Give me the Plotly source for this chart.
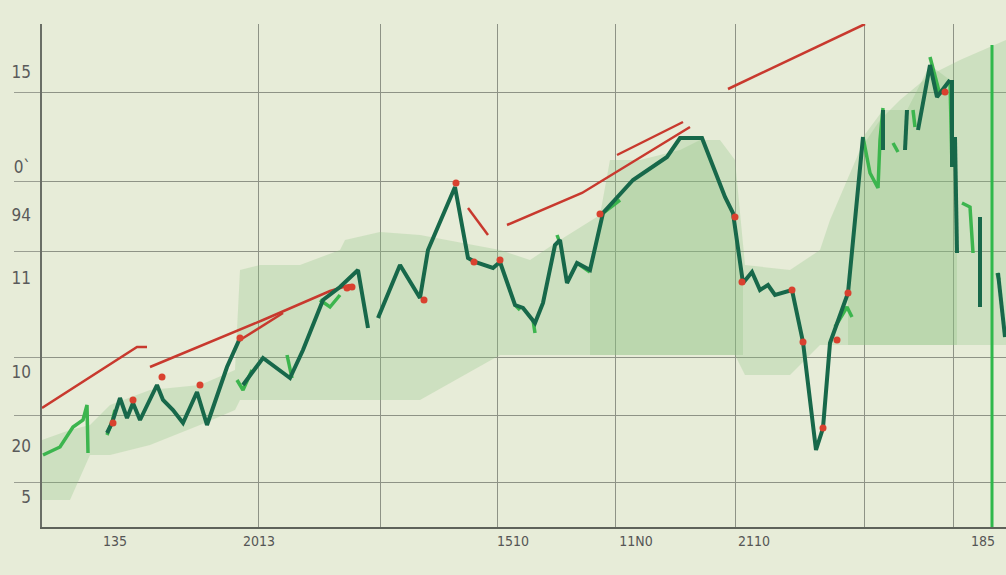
import plotly.graph_objects as go

# ---- data (arbitrary chart units) ----
main_x = [107, 112, 120, 127, 133, 140, 157, 163, 173, 183, 197, 207, 227, 240, None,
          243, 263, 290, 303, 323, 340, 358, 368, None,
          378, 400, 420, 428, 455, 468, 475, 493, 500, 515, 523, 535, 543, 555, 560, 567, 577, 590,
          603, 633, 667, 680, 702, 725, 733, 743, 752, 760, 768, 775, 792, 803, 816, 823, 830, 848, 863, None,
          883, 883, None, 907, 905, None, 918, 930, 937, 950, None, 952, 952, None, 955, 957, None,
          980, 980, None, 998, 1005]
main_y = [433, 423, 398, 418, 403, 420, 385, 400, 410, 423, 392, 425, 367, 338, None,
          385, 358, 378, 350, 300, 287, 270, 328, None,
          318, 265, 298, 250, 187, 258, 262, 268, 262, 305, 308, 323, 303, 245, 240, 283, 263, 270,
          213, 180, 157, 138, 138, 197, 213, 283, 272, 290, 285, 295, 290, 342, 450, 428, 343, 293, 137, None,
          110, 150, None, 110, 150, None, 130, 65, 97, 80, None, 80, 167, None, 137, 253, None,
          217, 307, None, 273, 337]

bright_x = [43, 60, 73, 83, 87, 88, None, 107, 112, 115, None, 237, 243, 252, None, 287, 292, None,
            320, 330, 340, None, 515, 520, None, 533, 535, None, 557, 560, None, 577, 590, None, 603, 620, None,
            835, 847, 852, None, 863, 870, 878, 880, 883, None, 893, 898, None, 913, 915, None,
            930, 940, None, 950, 952, None, 962, 970, 973, None, 980, 980, None, 997, 999]
bright_y = [455, 447, 427, 420, 405, 453, None, 435, 422, 410, None, 380, 390, 370, None, 355, 378, None,
            300, 307, 295, None, 305, 310, None, 320, 333, None, 235, 243, None, 263, 272, None, 213, 200, None,
            327, 307, 317, None, 137, 173, 188, 140, 108, None, 143, 152, None, 110, 127, None,
            57, 95, None, 80, 167, None, 203, 207, 253, None, 217, 307, None, 273, 280]

spike_x = [992, 992]
spike_y = [45, 532]

trend_x = [42, 137, 147, None, 150, 263, 330, 350, None, 240, 283, None, 468, 488, None,
           507, 582, 690, None, 617, 683, None, 728, 865]
trend_y = [408, 347, 347, None, 367, 320, 291, 285, None, 340, 313, None, 208, 235, None,
           225, 193, 127, None, 155, 122, None, 89, 24]

dot_x = [113, 133, 162, 200, 240, 347, 352, 424, 456, 474, 500, 600, 735, 742, 792, 803, 823, 837, 848, 945]
dot_y = [423, 400, 377, 385, 338, 288, 287, 300, 183, 262, 260, 214, 217, 282, 290, 342, 428, 340, 293, 92]

band_x = [42, 70, 90, 110, 150, 200, 235, 240, 260, 300, 340, 345, 380, 420, 500, 530, 560, 600, 610,
          640, 680, 700, 720, 735, 745, 790, 820, 830, 860, 880, 900, 930, 960, 1006]
band_top = [440, 430, 425, 405, 390, 385, 370, 270, 265, 265, 250, 240, 232, 235, 250, 260, 240, 215, 160,
            160, 150, 140, 140, 160, 265, 270, 250, 220, 150, 120, 100, 75, 60, 40]
band_bottom = [500, 500, 455, 455, 445, 425, 410, 400, 400, 400, 400, 400, 400, 400, 355, 355, 355, 355, 355,
               355, 355, 355, 355, 355, 375, 375, 345, 345, 345, 345, 345, 345, 345, 345]

peak1_x = [590, 603, 633, 667, 680, 702, 725, 733, 743]
peak1_top = [270, 213, 180, 157, 138, 138, 197, 213, 283]
peak1_bottom = [355, 355, 355, 355, 355, 355, 355, 355, 355]

peak2_x = [848, 863, 883, 907, 930, 950, 957]
peak2_top = [293, 137, 110, 110, 65, 80, 253]
peak2_bottom = [345, 345, 345, 345, 345, 345, 345]

grid_x = [258, 380, 497, 615, 735, 864, 953]
grid_y = [92, 181, 251, 357, 415, 482]

x_label_pos = [115, 259, 513, 636, 754, 983]
x_labels = ["135", "2013", "1510", "11N0", "2110", "185"]
y_label_pos = [72, 167, 215, 278, 372, 446, 497]
y_labels = ["15", "0ˋ", "94", "11", "10", "20", "5"]

BG = "#e7ecd8"
DARK = "#17684a"
BRIGHT = "#3cb54e"
RED = "#c8392e"
FILL = "rgba(140,195,130,0.28)"
FONT = "Liberation Sans Narrow, DejaVu Sans Condensed, Liberation Sans, sans-serif"

fig = go.Figure()

# broad shaded band
fig.add_trace(go.Scatter(x=band_x, y=band_bottom, mode="lines", line=dict(width=0),
                         hoverinfo="skip", showlegend=False))
fig.add_trace(go.Scatter(x=band_x, y=band_top, mode="lines", line=dict(width=0),
                         fill="tonexty", fillcolor=FILL, hoverinfo="skip", showlegend=False))
# darker shading under peaks
fig.add_trace(go.Scatter(x=peak1_x, y=peak1_bottom, mode="lines", line=dict(width=0),
                         hoverinfo="skip", showlegend=False))
fig.add_trace(go.Scatter(x=peak1_x, y=peak1_top, mode="lines", line=dict(width=0),
                         fill="tonexty", fillcolor=FILL, hoverinfo="skip", showlegend=False))
fig.add_trace(go.Scatter(x=peak2_x, y=peak2_bottom, mode="lines", line=dict(width=0),
                         hoverinfo="skip", showlegend=False))
fig.add_trace(go.Scatter(x=peak2_x, y=peak2_top, mode="lines", line=dict(width=0),
                         fill="tonexty", fillcolor=FILL, hoverinfo="skip", showlegend=False))

# red trend lines
fig.add_trace(go.Scatter(x=trend_x, y=trend_y, mode="lines", line=dict(color=RED, width=2.5),
                         connectgaps=False, showlegend=False))
# bright green segments
fig.add_trace(go.Scatter(x=bright_x, y=bright_y, mode="lines", line=dict(color=BRIGHT, width=3.5),
                         connectgaps=False, showlegend=False))
# main dark line
fig.add_trace(go.Scatter(x=main_x, y=main_y, mode="lines", line=dict(color=DARK, width=4),
                         connectgaps=False, showlegend=False))
# vertical spike
fig.add_trace(go.Scatter(x=spike_x, y=spike_y, mode="lines", line=dict(color="#2fb84b", width=3),
                         showlegend=False))
# red dots
fig.add_trace(go.Scatter(x=dot_x, y=dot_y, mode="markers",
                         marker=dict(color="#d9412f", size=7), showlegend=False))

fig.update_layout(
    width=1006, height=575,
    margin=dict(l=42, r=0, t=24, b=48),
    paper_bgcolor=BG, plot_bgcolor=BG,
    font=dict(family=FONT, color="#555555"),
    xaxis=dict(range=[42, 1006], tickvals=grid_x, showticklabels=False, showgrid=True,
               gridcolor="#8e9386", gridwidth=1, zeroline=False, showline=True,
               linecolor="#5e625a", linewidth=2, ticks=""),
    yaxis=dict(range=[527, 24], tickvals=grid_y, showticklabels=False, showgrid=True,
               gridcolor="#8e9386", gridwidth=1, zeroline=False, showline=True,
               linecolor="#6a6e66", linewidth=2, ticks="outside", ticklen=26,
               tickcolor="#9a9e92", tickwidth=1),
    xaxis2=dict(range=[42, 1006], overlaying="x", anchor="y", side="bottom",
                tickvals=x_label_pos, ticktext=x_labels, showgrid=False, zeroline=False,
                ticks="", ticklabelstandoff=4, tickfont=dict(size=14, color="#555555", family=FONT)),
    yaxis2=dict(range=[527, 24], overlaying="y", anchor="x", side="left",
                tickvals=y_label_pos, ticktext=y_labels, showgrid=False, zeroline=False,
                ticks="", ticklabelstandoff=10, tickfont=dict(size=17, color="#5a5a5a", family=FONT)),
)
# invisible trace to activate the label axes
fig.add_trace(go.Scatter(x=[None], y=[None], xaxis="x2", yaxis="y2", showlegend=False))

fig.write_html("out.html")
